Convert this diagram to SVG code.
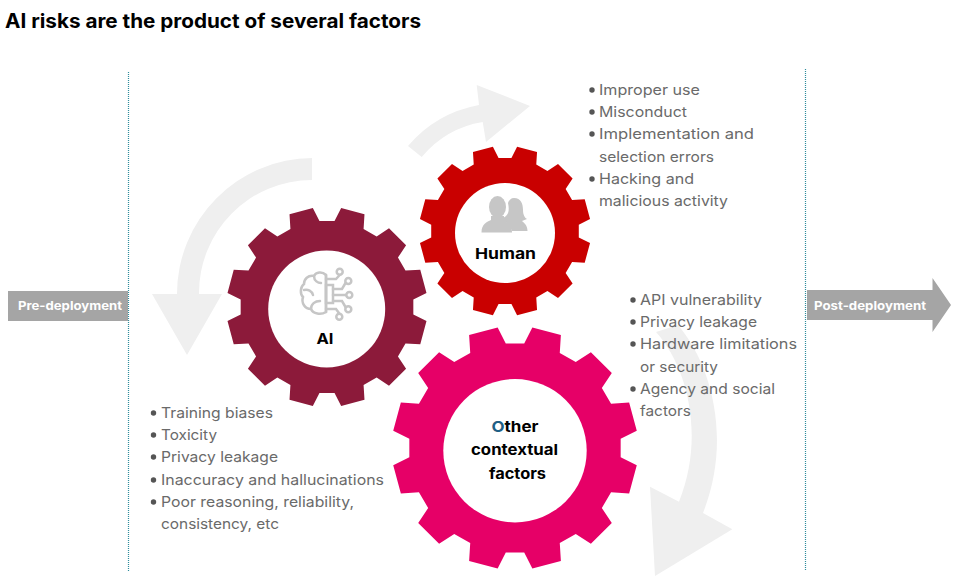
<svg xmlns="http://www.w3.org/2000/svg" xmlns:xlink="http://www.w3.org/1999/xlink" width="960" height="576" viewBox="0 0 960 576">
<style>
text{font-family:"Inter","Noto Sans","Liberation Sans",sans-serif}
.t{font-size:20px;font-weight:700;fill:#000}
.b{font-size:14.5px;fill:#6a6a6a;font-weight:400}
.g{font-size:15px;font-weight:700;fill:#000;text-anchor:start}
.w{font-size:12px;font-weight:700;fill:#fff}
.ar{fill:#efefef}
.tag{fill:#a5a5a5}
.dl{stroke:#2f8c9c;stroke-width:1.2;stroke-dasharray:1 1;fill:none}
.hole{fill:#fff}
.ic{stroke:#c6c6c6;stroke-width:2.500;fill:none;stroke-linecap:round}
.icf{fill:#c6c6c6}
.d{fill:#555}
</style>
<defs>
<polygon id="gear" points="859,75 990,141 928,373 781,364 706,494 787,617 617,787 494,706 364,781 373,928 141,990 75,859 -75,859 -141,990 -373,928 -364,781 -494,706 -617,787 -787,617 -706,494 -781,364 -928,373 -990,141 -859,75 -859,-75 -990,-141 -928,-373 -781,-364 -706,-494 -787,-617 -617,-787 -494,-706 -364,-781 -373,-928 -141,-990 -75,-859 75,-859 141,-990 373,-928 364,-781 494,-706 617,-787 787,-617 706,-494 781,-364 928,-373 990,-141 859,-75"/>
</defs>
<rect width="960" height="576" fill="#fff"/>
<text class="t" x="5" y="28" textLength="416" lengthAdjust="spacingAndGlyphs">AI risks are the product of several factors</text>

<g id="connectors">
<path class="ar" d="M312 158A136 136 0 0 0 177 294L152 294L187 355L222 294L199 294A113 113 0 0 1 312 180Z"/>
<path class="ar" d="M408 146Q436 113 479 105L476.700 85L530 106L486 142L482.700 122Q446 128 421.700 157Z"/>
<path class="ar" d="M678 325C712 365 732 440 703 513L732.300 529.300L655 576L650 486.700L679 501.700C704 440 690 370 656 332Z"/>
<line class="dl" x1="128.500" y1="72" x2="128.500" y2="571"/>
<line class="dl" x1="805.500" y1="69" x2="805.500" y2="571"/>
</g>

<g id="pre-deployment">
<rect class="tag" x="8" y="291" width="120" height="30"/>
<text class="w" x="18" y="309.500" textLength="104" lengthAdjust="spacingAndGlyphs">Pre-deployment</text>
</g>
<g id="post-deployment">
<polygon class="tag" points="807,290 932.500,290 932.500,278 951,305 932.500,332 932.500,320 807,320"/>
<text class="w" x="814" y="309.500" textLength="112" lengthAdjust="spacingAndGlyphs">Post-deployment</text>
</g>

<g id="gear-ai">
<use xlink:href="#gear" href="#gear" transform="translate(327 307) scale(.1005 .1)" fill="#8c1a3a"/>
<circle class="hole" cx="326.700" cy="309" r="58.500"/>
<g>
<path class="ic" d="M326 275C322 271 316 272 314 276C308 275 304 279 304 284C300 287 300 294 303 297C301 303 305 309 311 309C313 314 321 315 326 312Z"/>
<path class="ic" d="M314 276C314 281 318 283 321 283M304 290C308 289 312 291 313 295M311 309C311 304 315 301 320 301M326 275V312"/>
<rect class="ic" x="326" y="285" width="7" height="18"/>
<path class="ic" d="M326 279H336L339.700 275M333 289H342L345.500 283M333 295H346M333 301H342L345.500 307M326 309H336L339.300 313.500"/>
<circle class="ic" cx="339.700" cy="271.700" r="3"/>
<circle class="ic" cx="348.300" cy="281" r="3"/>
<circle class="ic" cx="349.300" cy="295" r="3"/>
<circle class="ic" cx="348.300" cy="309.300" r="3"/>
<circle class="ic" cx="339.300" cy="316.700" r="3"/>
</g>
<text class="g" x="316.500" y="343.500" textLength="17" lengthAdjust="spacingAndGlyphs">AI</text>
</g>

<g id="gear-human">
<use xlink:href="#gear" href="#gear" transform="translate(505 231) scale(.0859 .085)" fill="#c90000"/>
<circle class="hole" cx="505" cy="233" r="50"/>
<path class="icf" d="M514 198C521 198 523 204 523 210C523 215 525 218 527 219L522 221C524 223 527.500 225 527.500 231H512C510 225 505 221 500 219C508 217 510 212 508 203C509 200 511 198 514 198Z"/>
<ellipse class="icf" cx="497.500" cy="207" rx="8.500" ry="11"/>
<path class="icf" d="M491 216H504V220C507 222.500 512 224 512 232.500H481.500C481.500 224 487 222 491 220Z"/>
<text class="g" x="475" y="258.500" textLength="61" lengthAdjust="spacingAndGlyphs">Human</text>
</g>

<g id="gear-other">
<use xlink:href="#gear" href="#gear" transform="translate(515 448) scale(.123 .1217)" fill="#e60067"/>
<circle class="hole" cx="515" cy="450.700" r="71.700"/>
<text class="g" x="491.500" y="431.500" textLength="47" lengthAdjust="spacingAndGlyphs"><tspan fill="#1f5f85">O</tspan>ther</text>
<text class="g" x="471" y="455" textLength="87" lengthAdjust="spacingAndGlyphs">contextual</text>
<text class="g" x="489" y="479" textLength="57" lengthAdjust="spacingAndGlyphs">factors</text>
</g>

<g id="list-human">
<circle class="d" cx="592" cy="90" r="2.700"/><circle class="d" cx="592" cy="112" r="2.700"/><circle class="d" cx="592" cy="134" r="2.700"/><circle class="d" cx="592" cy="179" r="2.700"/>
<text class="b" x="599" y="95" textLength="101" lengthAdjust="spacingAndGlyphs">Improper use</text>
<text class="b" x="599" y="117" textLength="88" lengthAdjust="spacingAndGlyphs">Misconduct</text>
<text class="b" x="599" y="139" textLength="155" lengthAdjust="spacingAndGlyphs">Implementation and</text>
<text class="b" x="599" y="162" textLength="115" lengthAdjust="spacingAndGlyphs">selection errors</text>
<text class="b" x="599" y="184" textLength="95" lengthAdjust="spacingAndGlyphs">Hacking and</text>
<text class="b" x="599" y="206" textLength="129" lengthAdjust="spacingAndGlyphs">malicious activity</text>
</g>

<g id="list-other">
<circle class="d" cx="633" cy="300" r="2.700"/><circle class="d" cx="633" cy="322" r="2.700"/><circle class="d" cx="633" cy="344" r="2.700"/><circle class="d" cx="633" cy="389" r="2.700"/>
<text class="b" x="640" y="305" textLength="122" lengthAdjust="spacingAndGlyphs">API vulnerability</text>
<text class="b" x="640" y="327" textLength="117" lengthAdjust="spacingAndGlyphs">Privacy leakage</text>
<text class="b" x="640" y="349" textLength="157" lengthAdjust="spacingAndGlyphs">Hardware limitations</text>
<text class="b" x="640" y="372" textLength="78" lengthAdjust="spacingAndGlyphs">or security</text>
<text class="b" x="640" y="394" textLength="135" lengthAdjust="spacingAndGlyphs">Agency and social</text>
<text class="b" x="640" y="416" textLength="51" lengthAdjust="spacingAndGlyphs">factors</text>
</g>

<g id="list-ai">
<circle class="d" cx="153.500" cy="413" r="2.700"/><circle class="d" cx="153.500" cy="435" r="2.700"/><circle class="d" cx="153.500" cy="457" r="2.700"/><circle class="d" cx="153.500" cy="480" r="2.700"/><circle class="d" cx="153.500" cy="502" r="2.700"/>
<text class="b" x="161" y="418" textLength="112" lengthAdjust="spacingAndGlyphs">Training biases</text>
<text class="b" x="161" y="440" textLength="56" lengthAdjust="spacingAndGlyphs">Toxicity</text>
<text class="b" x="161" y="462" textLength="117" lengthAdjust="spacingAndGlyphs">Privacy leakage</text>
<text class="b" x="161" y="485" textLength="223" lengthAdjust="spacingAndGlyphs">Inaccuracy and hallucinations</text>
<text class="b" x="161" y="507" textLength="193" lengthAdjust="spacingAndGlyphs">Poor reasoning, reliability,</text>
<text class="b" x="161" y="529" textLength="118" lengthAdjust="spacingAndGlyphs">consistency, etc</text>
</g>
</svg>
